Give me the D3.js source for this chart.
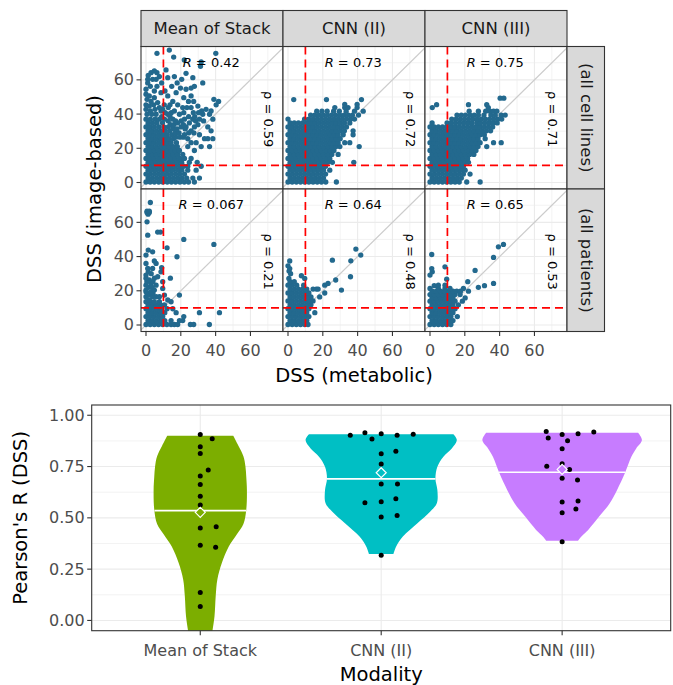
<!DOCTYPE html>
<html><head><meta charset="utf-8">
<script src="https://cdn.jsdelivr.net/npm/d3@7/dist/d3.min.js"></script>
<style>body{margin:0;background:#fff}svg{display:block}text{font-family:"DejaVu Sans",sans-serif}</style>
</head><body><svg id="c" width="673" height="685"></svg>
<script>
// ---------------- DATA ----------------
const modalities = ["Mean of Stack", "CNN (II)", "CNN (III)"];
const cohorts = ["(all cell lines)", "(all patients)"];
const scatterTicks = [0, 20, 40, 60];
const scatterMinor = [10, 30, 50, 70];
const dssThreshold = 10;
const pearsonCellLines = ["0.42", "0.73", "0.75"];
const pearsonPatients = ["0.067", "0.64", "0.65"];
const spearmanCellLines = ["0.59", "0.72", "0.71"];
const spearmanPatients = ["0.21", "0.48", "0.53"];

// each row: [DSS image-based, DSS metabolic values ...]
const cellMoS = [
[0.3,0,2.4,4.8,7.3,9.7,12.2,14.6,17,19.5,22,24.4,27.8],
[2.6,1.2,3.6,6.1,8.5,10.9,13.4,15.8,18.3,20.7,23.4,26.9,30.7],
[4.9,0,2.4,4.9,7.3,9.7,12.1,14.5,17,19.4,22.1],
[7.2,1.2,3.6,6,8.5,10.9,13.3,15.7,18.2,20.6,24,28.8],
[9.5,0,2.4,4.8,7.2,9.7,12.1,14.5,16.9,19.3,21.7,24,31.7],
[11.8,1.2,3.6,6,8.4,10.8,13.3,15.7,18.1,20.5,24.9,29.4],
[14.1,0,2.4,4.8,7.2,9.6,12,14.5,16.9,19.3,22.1,25.9],
[16.4,1.2,3.6,6,8.4,10.8,13.2,15.6,18.1,21.1],
[18.7,0,2.4,4.8,7.2,9.6,12,14.4,16.9,19.2,27.8],
[21,1.2,3.6,6,8.4,10.8,13.2,15.6,18,24,31.7,36.5],
[23.3,0,2.4,4.8,7.2,9.6,12,14.4,17.5,25.9,28.8],
[25.6,1.2,3.6,6,8.4,10.8,13.2,15.8,24,33.6,35.5,38.4],
[26.5,17.2,19.5,21.5],
[27.9,0,2.4,4.8,7.2,9.6,12.1,14.8,22.1,30.7],
[29,16.8,19,24.5,27.5],
[30.2,1.2,3.6,6,8.4,11,13.6,25.9,37.4],
[31.3,15.5,17.8,22.5],
[32.5,0,2.4,4.8,7.4,10.2,12.8,20.2,23,27.8,35.5],
[33.8,14,16,21.5,29.8],
[34.8,1.2,3.7,6.3,9.5,18.2,24.9],
[36,12.8,17,20.2,28.5,33.1],
[37,0,2.5,5.2,7.7,10.6,15.4,22.1,26.9,30.7,38.4],
[38.5,9,13.8,24.5,28],
[39.9,0.6,3.3,5.8,12.5,19.2,32.6,36.5],
[40.8,11,14.5,21.7,27.2,30.2],
[41.8,2.5,8.6,16.3,32,37.4],
[42.8,0,5.2,9.6,34.5],
[43.8,7.7,12.8,21.1,23.5,25.9],
[44.7,1.9,29.8],
[45.4,0,4.4,10.5,13.8,18.2,40.3],
[46.7,6.7],
[47.4,2.9,15.4,24.4,27.4,41.7],
[48.6,0.6,39],
[49.6,4.8,21.7],
[50.6,1.9,12.5,25.9],
[51.6,0],
[52.5,8.6,17.3],
[53.5,4.8,10.9],
[54.5,0,23],
[55.2,19.8,25.9],
[56.2,2.5,6.3,14.8,27.8],
[58.2,1,9,17.9,32.6],
[60.3,1,3.8,5.8,20.5],
[61.3,12.5,26.9],
[61.9,7.7,16.3],
[62.6,1.3],
[63.8,23],
[64.2,2.9,6.3],
[65.2,4.8],
[65.8,11.5],
[67.9,31.3],
[70.5,31.7],
[71.6,22],
[73.3,15.9],
[75.5,6.3,40.1],
[77.4,13.4]
];
const cellCNN2 = [
[0.3,0,2.4,4.8,7.2,9.6,12,14.4,16.8,19.2,21.7,27.8],
[2.6,1.2,3.6,6,8.4,10.8,13.2,15.6,18,20.4],
[4.9,0,2.4,4.8,7.2,9.6,12,14.4,16.8,19.2,21.6],
[7.2,1.2,3.6,6,8.4,10.8,13.2,15.6,18,20.4,24],
[9.5,0,2.4,4.8,7.2,9.6,12,14.4,16.8,19.2,21.6],
[11.8,1.2,3.6,6,8.4,10.8,13.2,15.6,18,20.4,22.8,25.5,37.8],
[14.1,0,2.4,4.8,7.2,9.6,12,14.4,16.8,19.2,21.6,24],
[16.4,1.2,3.6,6,8.4,10.8,13.2,15.6,18,20.4,22.8,25.2,28.8],
[18.7,0,2.4,4.8,7.2,9.6,12,14.4,16.8,19.2,21.6,24,26.4],
[21,1.2,3.6,6,8.4,10.8,13.2,15.6,18,20.4,22.8,25.2,27.6,29.8,40.9],
[23.3,0,2.4,4.8,7.2,9.6,12,14.4,16.8,19.2,21.6,24,26.4,28.8,32.6,35.5],
[25.6,1.2,3.6,6,8.4,10.8,13.2,15.6,18,20.4,22.8,25.2,27.6,30],
[27.9,0,2.4,4.8,7.2,9.6,12,14.4,16.8,19.2,21.6,24,26.4,28.8,31.7,37.4],
[30.2,1.2,3.6,6,8.4,10.8,13.2,15.6,18,20.4,22.8,25.2,27.6,30,32.4,37.4],
[32.5,0,2.4,4.8,7.2,9.6,12,14.4,16.8,19.2,21.6,24,26.4,28.8,31.2,33.6],
[34.8,1.2,3.6,6,8.4,10.8,13.2,15.6,18,20.4,22.8,25.2,27.6,30,32.4,35.5],
[37.1,0,9.5,12,14.4,16.8,19.2,21.6,24,26.4,28.8,31.2,33.6,36,38.2],
[39.4,13,15.4,17.8,20.2,22.6,25,27.4,29.8,32.2,34.6,37,40.5],
[41.7,16.5,19.5,22.5,26.2,29.5,33.4,38.2,43.2],
[43.8,26.9,32.6,34.5,39.7],
[45.6,32.6,39.7],
[48.5,3.3,22.1,42.2]
];
const cellCNN3 = [
[0.3,0,2.4,4.8,7.2,9.6,12,14.4,16.8,21.1,28.8],
[2.6,1.2,3.6,6,8.4,10.8,13.2,15.6,18],
[4.9,0,2.4,4.8,7.2,9.6,12,14.4,16.8,19.2,23],
[7.2,1.2,3.6,6,8.4,10.8,13.2,15.6,18,20.2],
[9.5,0,2.4,4.8,7.2,9.6,12,14.4,16.8,19.2],
[11.8,1.2,3.6,6,8.4,10.8,13.2,15.6,18,20.4,22.1],
[14.1,0,2.4,4.8,7.2,9.6,12,14.4,16.8,19.2,21.6],
[16.4,1.2,3.6,6,8.4,10.8,13.2,15.6,18,20.4,22.8,25.2],
[18.7,0,2.4,4.8,7.2,9.6,12,14.4,16.8,19.2,21.6,24,26.4],
[21,1.2,3.6,6,8.4,10.8,13.2,15.6,18,20.4,22.8,25.2,27.6,32.6],
[23.3,0,2.4,4.8,7.2,9.6,12,14.4,16.8,19.2,21.6,24,26.4,28.8,36.5,40.9],
[25.6,1.2,3.6,6,8.4,10.8,13.2,15.6,18,20.4,22.8,25.2,27.6,31.7],
[27.9,0,2.4,4.8,7.2,9.6,12,14.4,16.8,19.2,21.6,24,26.4,28.8,31.2],
[30.2,1.2,3.6,6,8.4,10.8,13.2,15.6,18,20.4,22.8,25.2,27.6,30,32.4,34.8],
[32.5,0,2.4,4.8,7.2,9.6,12,14.4,16.8,19.2,21.6,24,26.4,28.8,31.2,33.6,36],
[34.8,1.2,9.8,12.2,14.6,17,19.4,21.8,24.2,26.9,29,31.4,33.8,36.2,38.6],
[37.1,12.5,15,17.4,19.8,22.2,24.6,27,29.4,31.8,34.2,36.6,39,41.2],
[39.4,15.5,18,20.4,23,25.4,27.8,31,35,37.5,40.9,43.2],
[41.7,22.5,27.8,32,34.5,36.5,38.4],
[43.8,1.3,33.5],
[45.5,3.8,22.1,32.6],
[49.3,40.3,42.4]
];
const patMoS = [
[0.3,0,2.4,4.8,7.2,9.6,12,14.4,16.3,18.2,25.5,27.4,36.4],
[2.6,1.2,3.6,6,8.4,10.8,14.4,19.2,21.1],
[4.9,0,2.4,4.8,7.2,9.6,21.7],
[7.2,1.2,3.6,6,8.4,10.8,17.3,30.7,42.2],
[9.5,0,2.4,4.8,7.2,9,12.1,15.4],
[11.8,1.2,3.6,6,8.4,10.6],
[13.6,0,2.4,4.8,7.7,14.4],
[14.6,1.9,12.5],
[16.5,0,3.8,5.8,7.7],
[17.5,1.5,10.6,19.2],
[18.5,0.8,4],
[19.5,0,2.9],
[20.4,0,4.8],
[21.4,9.6],
[22,1.5,3.5],
[23.3,0,5.8],
[24.3,2.9],
[25.3,9.6,0.5,4],
[26.3,1.9],
[27.4,0,4.8,14],
[28.2,6.7],
[29.2,0],
[30,3],
[31.1,1.3,8.6],
[33.1,1,3.8],
[33.5,9],
[36,0,5.8],
[37.4,4.8],
[39.9,17.8],
[40.9,0],
[42.8,3.8],
[43.8,1.3],
[45.1,12.1],
[47.1,39],
[50,21.7],
[52.5,1],
[54.3,6.7,8.3],
[60.3,0.6],
[64.8,1.2],
[65.8,0.6,1.9],
[66.5,0.6,1.9],
[71.6,2.5]
];
const patCNN2 = [
[0.3,0,2.4,4.8,7.2,9.6,11.5],
[2.6,1.2,3.6,6,8.4,10.8],
[4.9,0,2.4,4.8,7.2,9.6,12],
[7.2,1.2,3.6,6,8.4,10.8,15.4],
[9.5,0,2.4,4.8,7.2,9.6,12],
[11.8,1.2,3.6,6,8.4,10.8,13.2],
[14.1,0,2.4,4.8,7.2,9.6,12,14.4],
[16.4,1.2,3.6,6,8.4,10.8,13.2,18.2],
[18.7,0,2.4,4.8,7.2,9.6,12,21.1],
[20.4,30.7],
[21,1.2,3.6,6,8.4,10.8,14.4,16.3,17.3],
[23.3,0,2.4,5,9,21.1],
[24.3,23],
[25.3,1.2,3.6],
[26.3,27.4],
[27.2,9.6,0.5],
[28.2,35.9],
[28.8,7.7],
[30,1.5],
[31.5,0.6],
[33,1],
[34.6,0],
[37.4,1],
[37.5,36.1],
[37.9,25.5],
[40.9,41.8],
[44.4,39]
];
const patCNN3 = [
[0.3,0,2.4,4.8,7.2,9.6,12],
[2.6,1.2,3.6,6,8.4,10.8,13.2],
[4.9,0,2.4,4.8,7.2,9.6,12,15.7],
[7.2,1.2,3.6,6,8.4,10.8,13.2],
[9.5,0,2.4,4.8,7.2,9.6,12,14.4],
[11.8,1.2,3.6,6,8.4,10.8,13.2,16.3],
[13.9,0,2.4,4.8,7.2,9.6,12,14.4,18.6],
[15.8,1.2,3.6,6,8.4,10.8,13.2,20.2],
[17.8,0,2.4,4.8,7.2,9.6,12,14.4,17.3],
[19.8,1.2,3.6,6,8.4,10.8,13.2,15.4,17.5,22.1],
[21.4,0,4.8,8.6,11.5,19.2],
[22,27.8],
[23,31.3,2.4],
[23.3,4.8,8.6],
[24.3,36.5],
[25.3,21.7],
[26.8,9.6],
[29.2,0],
[31.1,1.3],
[31.9,25.9],
[33,1],
[34,8.6],
[39.5,36.5],
[41.2,1],
[45.7,39.3],
[47.1,42.2]
];

// violin profiles: [Pearson's R, relative width]
const violinMoS = [[0.90,0.405],[0.85,0.47],[0.80,0.53],[0.75,0.555],[0.70,0.565],[0.635,0.573],[0.54,0.565],[0.47,0.53],[0.42,0.45],[0.36,0.35],[0.28,0.265],[0.20,0.21],[0.12,0.19],[0.02,0.175],[-0.05,0.15],[-0.10,0.13]];
const violinCNN2 = [[0.907,0.887],[0.879,0.929],[0.838,0.867],[0.798,0.764],[0.749,0.69],[0.691,0.666],[0.636,0.69],[0.571,0.683],[0.530,0.60],[0.474,0.445],[0.409,0.266],[0.36,0.184],[0.324,0.151]];
const violinCNN3 = [[0.915,0.933],[0.879,0.98],[0.838,0.91],[0.798,0.85],[0.717,0.77],[0.636,0.675],[0.571,0.585],[0.506,0.454],[0.441,0.32],[0.409,0.237],[0.389,0.196]];
// points: [Pearson's R, jitter]
const rMoS = [[0.906,0],[0.885,0.066],[0.846,0],[0.814,0],[0.733,0.044],[0.704,0],[0.663,0],[0.605,0],[0.563,0],[0.451,0],[0.457,0.088],[0.367,0],[0.357,0.085],[0.136,0],[0.068,0]];
const rCNN2 = [[0.902,-0.171],[0.915,-0.09],[0.884,-0.051],[0.91,0],[0.903,0.088],[0.908,0.177],[0.812,0],[0.825,0.081],[0.762,0],[0.665,0],[0.665,0.09],[0.574,-0.09],[0.579,0],[0.593,0.081],[0.504,0],[0.511,0.088],[0.318,0]];
const rCNN3 = [[0.921,-0.088],[0.889,-0.077],[0.906,0],[0.910,0.088],[0.919,0.175],[0.876,0.03],[0.837,0],[0.752,-0.085],[0.764,0],[0.736,0.041],[0.693,0],[0.684,0.085],[0.577,0],[0.582,0.088],[0.525,0],[0.543,0.076],[0.383,0]];
const medians = [0.535, 0.69, 0.722];
const means = [0.527, 0.72, 0.736];
const violinColors = ["#7CAE00", "#00BFC4", "#C77CFF"];
const rTicks = [0, 0.25, 0.5, 0.75, 1];
const rMinor = [0.125, 0.375, 0.625, 0.875];

// ---------------- DRAW ----------------
const svg = d3.select("#c");
const toPts = rows => rows.flatMap(r => r.slice(1).map(v => ({x: v, y: r[0]})));
const scatter = [[cellMoS, cellCNN2, cellCNN3], [patMoS, patCNN2, patCNN3]];
const pearson = [pearsonCellLines, pearsonPatients];
const spearman = [spearmanCellLines, spearmanPatients];

const colX = [141, 283, 425], pW = 142, rowY = [46.5, 189], pH = 142.5;
const x = d3.scaleLinear().domain([-2.87, 78.7]).range([0, pW]);
const y = d3.scaleLinear().domain([-3.8, 79.5]).range([pH, 0]);
const border = "#333333", grid = "#ebebeb", tickCol = "#4d4d4d";
const ptColor = "#23698e";

svg.append("defs").append("clipPath").attr("id", "pclip")
  .append("rect").attr("width", pW).attr("height", pH);

for (let r = 0; r < 2; r++) {
  for (let c = 0; c < 3; c++) {
    const g = svg.append("g").attr("transform", `translate(${colX[c]},${rowY[r]})`);
    g.append("rect").attr("width", pW).attr("height", pH).attr("fill", "#fff");
    const inner = g.append("g").attr("clip-path", "url(#pclip)");
    scatterMinor.forEach(v => {
      inner.append("line").attr("x1", x(v)).attr("x2", x(v)).attr("y1", 0).attr("y2", pH).attr("stroke", grid).attr("stroke-width", 0.6);
      inner.append("line").attr("y1", y(v)).attr("y2", y(v)).attr("x1", 0).attr("x2", pW).attr("stroke", grid).attr("stroke-width", 0.6);
    });
    scatterTicks.forEach(v => {
      inner.append("line").attr("x1", x(v)).attr("x2", x(v)).attr("y1", 0).attr("y2", pH).attr("stroke", grid).attr("stroke-width", 1.1);
      inner.append("line").attr("y1", y(v)).attr("y2", y(v)).attr("x1", 0).attr("x2", pW).attr("stroke", grid).attr("stroke-width", 1.1);
    });
    inner.append("line").attr("x1", x(-10)).attr("y1", y(-10)).attr("x2", x(90)).attr("y2", y(90))
      .attr("stroke", "#cccccc").attr("stroke-width", 1.2);
    inner.selectAll("circle").data(toPts(scatter[r][c])).join("circle")
      .attr("cx", d => x(d.x)).attr("cy", d => y(d.y)).attr("r", 2.65).attr("fill", ptColor);
    inner.append("line").attr("x1", x(dssThreshold)).attr("x2", x(dssThreshold)).attr("y1", 0).attr("y2", pH)
      .attr("stroke", "#ff0000").attr("stroke-width", 1.7).attr("stroke-dasharray", "8,5");
    inner.append("line").attr("y1", y(dssThreshold)).attr("y2", y(dssThreshold)).attr("x1", 0).attr("x2", pW)
      .attr("stroke", "#ff0000").attr("stroke-width", 1.7).attr("stroke-dasharray", "8,5");
    const t = g.append("text").attr("x", x(37.5)).attr("y", y(70.5)).attr("text-anchor", "middle")
      .attr("dominant-baseline", "central").attr("font-size", 13).attr("fill", "#000");
    t.append("tspan").attr("font-style", "italic").text("R");
    t.append("tspan").text(" = " + pearson[r][c]);
    g.append("text").attr("transform", `translate(${x(70.3)},${y(37)}) rotate(90)`).attr("text-anchor", "middle")
      .attr("dominant-baseline", "central").attr("font-size", 13).attr("fill", "#000")
      .text("ρ = " + spearman[r][c]);
    g.append("rect").attr("width", pW).attr("height", pH).attr("fill", "none").attr("stroke", border).attr("stroke-width", 1.1);
    if (c === 0) {
      scatterTicks.forEach(v => {
        g.append("line").attr("x1", -4.5).attr("x2", 0).attr("y1", y(v)).attr("y2", y(v)).attr("stroke", border).attr("stroke-width", 1.1);
        g.append("text").attr("x", -7).attr("y", y(v)).attr("text-anchor", "end").attr("dominant-baseline", "central")
          .attr("font-size", 16).attr("fill", tickCol).text(v);
      });
    }
    if (r === 1) {
      scatterTicks.forEach(v => {
        g.append("line").attr("x1", x(v)).attr("x2", x(v)).attr("y1", pH).attr("y2", pH + 4.5).attr("stroke", border).attr("stroke-width", 1.1);
        g.append("text").attr("x", x(v)).attr("y", pH + 24).attr("text-anchor", "middle")
          .attr("font-size", 16).attr("fill", tickCol).text(v);
      });
    }
  }
}
// strips
modalities.forEach((m, c) => {
  svg.append("rect").attr("x", colX[c]).attr("y", 10.5).attr("width", pW).attr("height", 36)
    .attr("fill", "#d9d9d9").attr("stroke", border).attr("stroke-width", 1.1);
  svg.append("text").attr("x", colX[c] + pW / 2).attr("y", 28.5).attr("text-anchor", "middle")
    .attr("dominant-baseline", "central").attr("font-size", 16.5).attr("fill", "#1a1a1a").text(m);
});
cohorts.forEach((k, r) => {
  svg.append("rect").attr("x", 567).attr("y", rowY[r]).attr("width", 37.5).attr("height", pH)
    .attr("fill", "#d9d9d9").attr("stroke", border).attr("stroke-width", 1.1);
  svg.append("text").attr("transform", `translate(${586},${rowY[r] + pH / 2}) rotate(90)`).attr("text-anchor", "middle")
    .attr("dominant-baseline", "central").attr("font-size", 16.5).attr("fill", "#1a1a1a").text(k);
});
svg.append("text").attr("transform", "translate(101,189) rotate(-90)").attr("text-anchor", "middle")
  .attr("font-size", 19.5).attr("fill", "#000").text("DSS (image-based)");
svg.append("text").attr("x", 354).attr("y", 381.7).attr("text-anchor", "middle")
  .attr("font-size", 19.5).attr("fill", "#000").text("DSS (metabolic)");

// ---------------- bottom violin ----------------
const bL = 91.7, bR = 670.7, bT = 405, bB = 630.7;
const xB = d3.scalePoint().domain(modalities).range([bL, bR]).padding(0.6);
const yB = d3.scaleLinear().domain([-0.05, 1.05]).range([bB, bT]);
const step = xB.step();
const half = 0.45 * step;
svg.append("defs").append("clipPath").attr("id", "bclip")
  .append("rect").attr("x", bL).attr("y", bT).attr("width", bR - bL).attr("height", bB - bT);
const bg = svg.append("g").attr("clip-path", "url(#bclip)");
rMinor.forEach(v => bg.append("line").attr("x1", bL).attr("x2", bR).attr("y1", yB(v)).attr("y2", yB(v)).attr("stroke", grid).attr("stroke-width", 0.6));
rTicks.forEach(v => bg.append("line").attr("x1", bL).attr("x2", bR).attr("y1", yB(v)).attr("y2", yB(v)).attr("stroke", grid).attr("stroke-width", 1.1));
modalities.forEach(m => bg.append("line").attr("x1", xB(m)).attr("x2", xB(m)).attr("y1", bT).attr("y2", bB).attr("stroke", grid).attr("stroke-width", 1.1));

const profiles = [violinMoS, violinCNN2, violinCNN3];
const rPoints = [rMoS, rCNN2, rCNN3];
function widthAt(prof, v) {
  for (let i = 0; i < prof.length - 1; i++) {
    const a = prof[i], b = prof[i + 1];
    if ((v <= a[0] && v >= b[0])) { const t = (a[0] - v) / (a[0] - b[0]); return a[1] + t * (b[1] - a[1]); }
  }
  return prof[prof.length - 1][1];
}
modalities.forEach((m, i) => {
  const cx = xB(m);
  const area = d3.area().curve(d3.curveCatmullRom.alpha(0.5))
    .y(d => yB(d[0])).x0(d => cx - d[1] * half).x1(d => cx + d[1] * half);
  bg.append("path").attr("d", area(profiles[i])).attr("fill", violinColors[i]);
  const w = widthAt(profiles[i], medians[i]) * half;
  bg.append("line").attr("x1", cx - w).attr("x2", cx + w).attr("y1", yB(medians[i])).attr("y2", yB(medians[i]))
    .attr("stroke", "#fff").attr("stroke-width", 1.6);
});
modalities.forEach((m, i) => {
  bg.selectAll(null).data(rPoints[i]).join("circle")
    .attr("cx", d => xB(m) + d[1] * step).attr("cy", d => yB(d[0])).attr("r", 2.5).attr("fill", "#000");
});
modalities.forEach((m, i) => {
  const cx = xB(m), cy = yB(means[i]), s = 5;
  bg.append("path").attr("d", `M${cx},${cy - s}L${cx + s},${cy}L${cx},${cy + s}L${cx - s},${cy}Z`)
    .attr("fill", violinColors[i]).attr("stroke", "#fff").attr("stroke-width", 1.2);
});
svg.append("rect").attr("x", bL).attr("y", bT).attr("width", bR - bL).attr("height", bB - bT)
  .attr("fill", "none").attr("stroke", border).attr("stroke-width", 1.1);
rTicks.forEach(v => {
  svg.append("line").attr("x1", bL - 4.5).attr("x2", bL).attr("y1", yB(v)).attr("y2", yB(v)).attr("stroke", border).attr("stroke-width", 1.1);
  svg.append("text").attr("x", bL - 7).attr("y", yB(v)).attr("text-anchor", "end").attr("dominant-baseline", "central")
    .attr("font-size", 16).attr("fill", tickCol).text(d3.format(".2f")(v));
});
modalities.forEach(m => {
  svg.append("line").attr("x1", xB(m)).attr("x2", xB(m)).attr("y1", bB).attr("y2", bB + 4.5).attr("stroke", border).attr("stroke-width", 1.1);
  svg.append("text").attr("x", xB(m)).attr("y", 655.5).attr("text-anchor", "middle")
    .attr("font-size", 16).attr("fill", tickCol).text(m);
});
svg.append("text").attr("transform", `translate(27,${(bT + bB) / 2}) rotate(-90)`).attr("text-anchor", "middle")
  .attr("font-size", 19.5).attr("fill", "#000").text("Pearson's R (DSS)");
svg.append("text").attr("x", (bL + bR) / 2).attr("y", 681).attr("text-anchor", "middle")
  .attr("font-size", 19.5).attr("fill", "#000").text("Modality");
</script></body></html>
